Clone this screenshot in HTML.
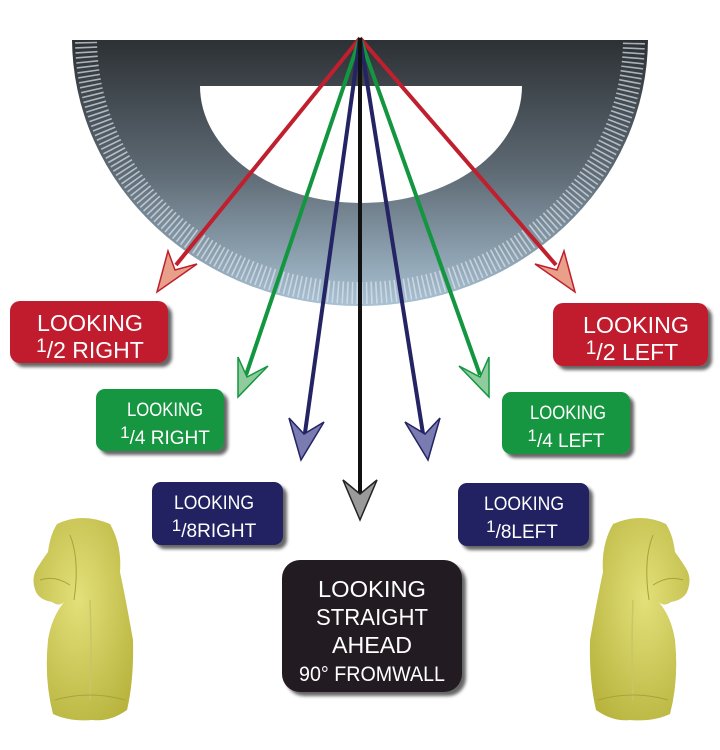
<!DOCTYPE html>
<html><head><meta charset="utf-8"><style>
html,body{margin:0;padding:0;background:#fff;}
svg{display:block}
text{font-family:"Liberation Sans",sans-serif;fill:#fff;}
</style></head><body>
<svg width="720" height="750" viewBox="0 0 720 750" xmlns="http://www.w3.org/2000/svg">
<defs>
<linearGradient id="pg" gradientUnits="userSpaceOnUse" x1="0" y1="38" x2="0" y2="306">
<stop offset="0" stop-color="#2c3034"/><stop offset="0.5" stop-color="#5e6a74"/><stop offset="1" stop-color="#a9c2d4"/>
</linearGradient>
<clipPath id="half"><rect x="0" y="40" width="720" height="300"/></clipPath>
<filter id="sh" x="-10%" y="-10%" width="130%" height="140%"><feDropShadow dx="4" dy="4" stdDeviation="1.5" flood-color="#000" flood-opacity="0.6"/></filter>
<radialGradient id="hg" cx="0.45" cy="0.4" r="0.7"><stop offset="0" stop-color="#e3e07a"/><stop offset="1" stop-color="#b8b43e"/></radialGradient>
</defs>
<g clip-path="url(#half)">
<ellipse cx="360" cy="38" rx="288" ry="268" fill="url(#pg)"/>
<ellipse cx="360" cy="38" rx="274" ry="255" fill="none" stroke="#dde6ee" stroke-width="22" stroke-dasharray="1.6 3.2" opacity="0.7"/>
<path d="M200 86 L522 86 A161 117 0 0 1 200 86 Z" fill="#fff"/>
</g>
<g stroke-width="4" fill="none">
<line x1="360" y1="38" x2="176" y2="265" stroke="#c01f2e"/>
<line x1="360" y1="38" x2="556" y2="265" stroke="#c01f2e"/>
<line x1="360" y1="38" x2="246" y2="375" stroke="#12963f"/>
<line x1="360" y1="38" x2="480" y2="375" stroke="#12963f"/>
<line x1="360" y1="38" x2="304" y2="440" stroke="#242363"/>
<line x1="360" y1="38" x2="424" y2="440" stroke="#242363"/>
<line x1="360" y1="38" x2="360" y2="500" stroke="#111"/>
</g>
<g stroke-width="1.5">
<polygon points="157,292 168,251 175,270 197,264" fill="#e8a08a" stroke="#c01f2e"/>
<polygon points="575,292 564,251 557,270 535,264" fill="#e8a08a" stroke="#c01f2e"/>
<polygon points="238,397 238,357 247,377 268,366" fill="#8fcb9c" stroke="#12963f"/>
<polygon points="489,397 489,357 480,377 459,366" fill="#8fcb9c" stroke="#12963f"/>
<polygon points="301,460 289,418 304,434 324,422" fill="#7a7bb0" stroke="#242363"/>
<polygon points="428,460 440,418 425,434 405,422" fill="#7a7bb0" stroke="#242363"/>
<polygon points="360,520 343,480 360,494 377,480" fill="#9a9a9a" stroke="#222"/>
</g>
<g filter="url(#sh)">
<rect x="10" y="301" width="158" height="62" rx="10" fill="#c01f2e"/>
<rect x="553" y="303" width="155" height="63" rx="10" fill="#c01f2e"/>
<rect x="96" y="389" width="128" height="62" rx="9" fill="#12963f"/>
<rect x="502" y="392" width="128" height="62" rx="9" fill="#12963f"/>
<rect x="152" y="482" width="131" height="63" rx="9" fill="#242363"/>
<rect x="458" y="483" width="131" height="63" rx="9" fill="#242363"/>
<rect x="282" y="560" width="180" height="132" rx="18" fill="#231f20"/>
</g>
<g font-size="23" text-anchor="middle">
<text x="90" y="331" textLength="106" lengthAdjust="spacingAndGlyphs">LOOKING</text>
<text x="90" y="358"><tspan font-size="19" dy="-6">1</tspan><tspan dy="6">/2 RIGHT</tspan></text>
<text x="636" y="333" textLength="106" lengthAdjust="spacingAndGlyphs">LOOKING</text>
<text x="632" y="360"><tspan font-size="19" dy="-6">1</tspan><tspan dy="6">/2 LEFT</tspan></text>
</g>
<g font-size="19" text-anchor="middle">
<text x="165" y="416" textLength="76" lengthAdjust="spacingAndGlyphs">LOOKING</text>
<text x="165" y="444"><tspan font-size="17" dy="-6">1</tspan><tspan dy="6">/4 RIGHT</tspan></text>
<text x="568" y="419" textLength="76" lengthAdjust="spacingAndGlyphs">LOOKING</text>
<text x="566" y="447"><tspan font-size="17" dy="-6">1</tspan><tspan dy="6">/4 LEFT</tspan></text>
<text x="214" y="509" textLength="80" lengthAdjust="spacingAndGlyphs">LOOKING</text>
<text x="214" y="537"><tspan font-size="17" dy="-6">1</tspan><tspan dy="6">/8RIGHT</tspan></text>
<text x="524" y="510" textLength="80" lengthAdjust="spacingAndGlyphs">LOOKING</text>
<text x="522" y="538"><tspan font-size="17" dy="-6">1</tspan><tspan dy="6">/8LEFT</tspan></text>
</g>
<g font-size="23" text-anchor="middle">
<text x="372" y="597" textLength="108" lengthAdjust="spacingAndGlyphs">LOOKING</text>
<text x="372" y="625" textLength="112" lengthAdjust="spacingAndGlyphs">STRAIGHT</text>
<text x="372" y="653" textLength="80" lengthAdjust="spacingAndGlyphs">AHEAD</text>
<text x="372" y="681" font-size="21" textLength="146" lengthAdjust="spacingAndGlyphs">90° FROMWALL</text>
</g>
<g id="horse" fill="url(#hg)">
<path d="M57 524 Q82 512 110 524 Q122 545 120 572 Q126 600 133 640 Q134 680 127 710 Q110 722 93 720 Q70 722 53 714 Q44 680 48 640 Q52 615 66 600 Q60 608 52 602 Q40 600 36 592 Q31 580 36 570 Q42 560 48 552 Q50 535 57 524 Z"/>
<path d="M70 535 Q80 560 74 600" stroke="#a7a23a" stroke-width="1" fill="none"/>
<path d="M40 580 Q55 575 70 585" stroke="#a7a23a" stroke-width="1" fill="none"/>
<path d="M90 600 Q92 650 90 700" stroke="#c9c568" stroke-width="1.5" fill="none"/>
<path d="M55 700 Q90 690 125 700" stroke="#a7a23a" stroke-width="1" fill="none"/>
</g>
<use href="#horse" transform="translate(723,0) scale(-1,1)"/>
</svg>
</body></html>
